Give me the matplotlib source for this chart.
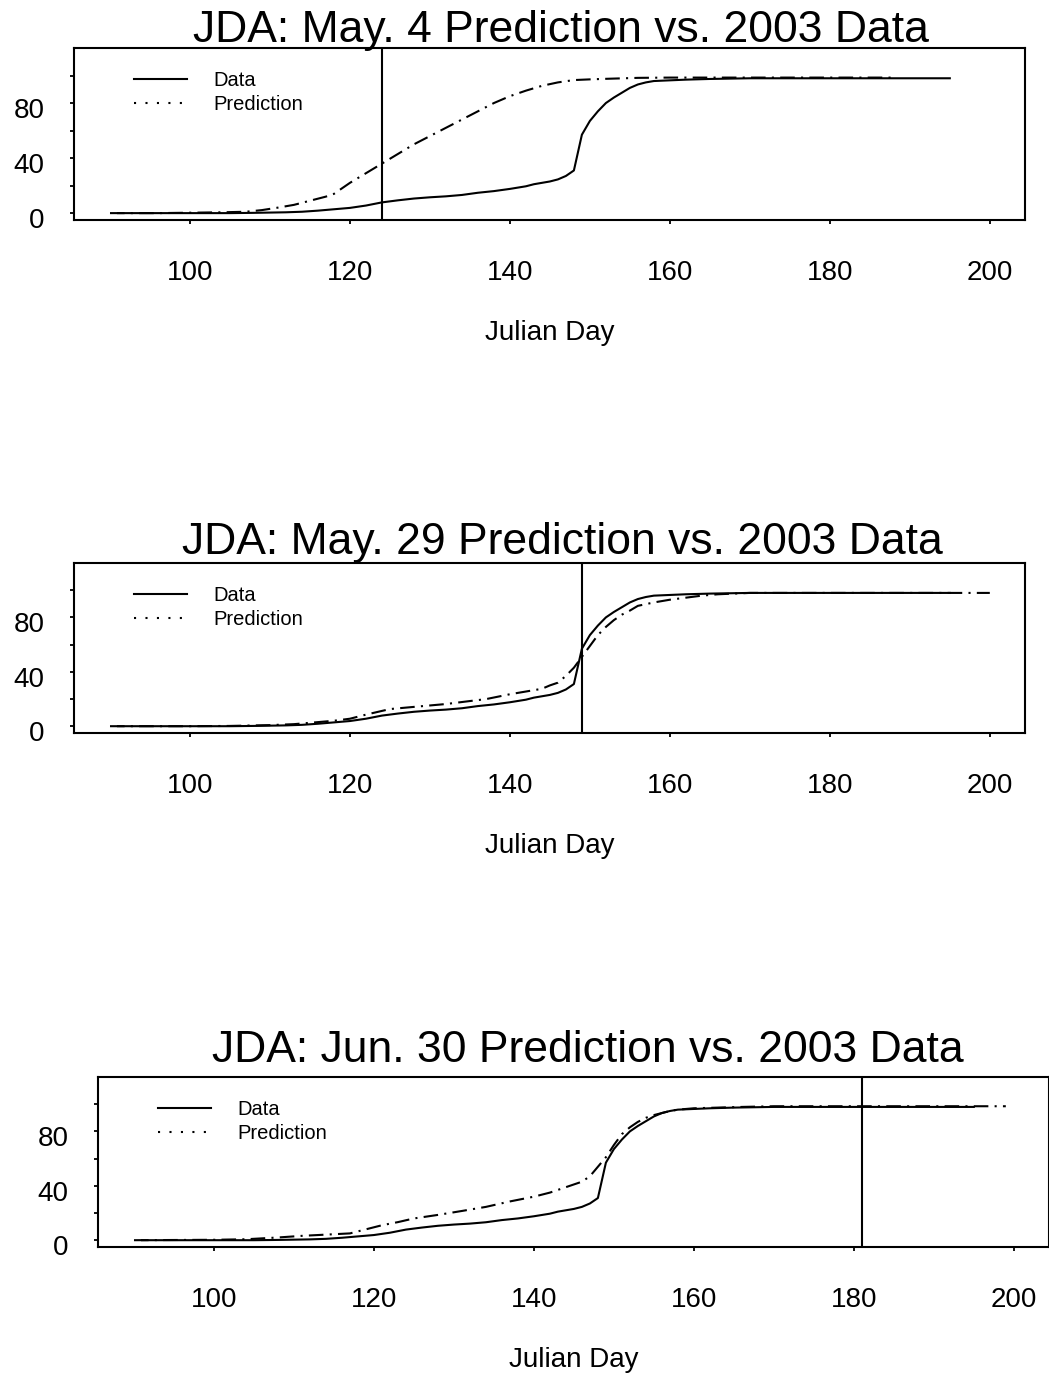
import matplotlib
matplotlib.use('Agg')
import matplotlib.pyplot as plt
import matplotlib.transforms as mtransforms
from matplotlib.lines import Line2D

plt.rcParams['font.family'] = ['Liberation Sans', 'DejaVu Sans']

# observed 2003 passage (same in all three panels)
data_days = [91, 95, 100, 105, 108, 110, 112, 114, 116, 118, 120, 122, 124, 126, 128,
             130, 132, 134, 136, 138, 140, 142, 143, 144, 145, 146, 147, 148, 149, 150,
             151, 152, 153, 154, 155, 156, 157, 158, 160, 162, 165, 170, 175, 180, 185,
             190, 195]
data_vals = [0, 0, 0, 0, 0.2, 0.4, 0.6, 1, 1.8, 2.8, 3.8, 5.5, 7.8, 9.3, 10.6,
             11.5, 12.2, 13.2, 14.8, 16, 17.6, 19.5, 21, 22, 23, 24.5, 27, 31, 57, 67,
             74, 80, 84, 87.5, 91, 93.5, 95, 96, 96.5, 97, 97.5, 98, 98, 98, 98,
             98, 98]

# May 4 prediction
pred1_days = [90, 96, 100, 104, 107, 109, 111, 113, 115, 117, 118, 119, 120, 122, 124,
              126, 128, 130, 132, 134, 136, 138, 140, 142, 144, 146, 148, 150, 152, 156,
              160, 170, 180, 188]
pred1_vals = [0, 0, 0.3, 0.6, 1, 2.2, 4, 6, 9, 12, 14, 18, 22, 29, 36,
              43, 50, 56, 62, 68, 74, 80, 85, 89, 92.5, 95, 96.7, 97.2, 97.6, 98.3,
              98.5, 98.5, 98.5, 98.5]

# May 29 prediction
pred2_days = [90, 100, 105, 110, 113, 116, 118, 120, 122, 125, 128, 132, 135, 137, 140,
              142, 144, 145, 146, 147, 148, 149, 150, 151, 152, 153, 154, 155, 156, 158,
              160, 162, 164, 166, 170, 180, 190, 200]
pred2_vals = [0, 0, 0.2, 0.8, 1.5, 3, 4, 5.5, 8.5, 12.6, 14.2, 16.3, 18.5, 19.9, 23.5,
              25.5, 27.5, 30, 32, 37, 43, 51, 59, 67, 73, 78, 82, 85, 88.5, 91,
              93, 94.5, 96, 97, 98, 98, 98, 98]

# Jun 30 prediction
pred3_days = [90, 100, 104, 108, 111, 113, 117, 119, 121, 123, 125, 128, 131, 134, 137,
              140, 142, 144, 146, 147, 148, 149, 150, 151, 152, 153, 154, 155, 156, 157,
              158, 160, 163, 166, 170, 180, 190, 199]
pred3_vals = [0, 0.3, 0.7, 2, 3.2, 3.8, 5, 8, 11, 13.3, 16, 18.6, 21.5, 24.5, 28.5,
              32, 35, 39, 43, 47, 54, 61, 70, 78, 83, 87, 90, 92, 93.5, 95,
              96, 97, 97.5, 98, 98.5, 98.5, 98.5, 98.5]

cutoff_days = [124, 149, 181]
titles = ['JDA: May. 4 Prediction vs. 2003 Data',
          'JDA: May. 29 Prediction vs. 2003 Data',
          'JDA: Jun. 30 Prediction vs. 2003 Data']
pred_days = [pred1_days, pred2_days, pred3_days]
pred_vals = [pred1_vals, pred2_vals, pred3_vals]

W, H = 1049, 1375
fig = plt.figure(figsize=(W / 100, H / 100), dpi=100)


def rect(left, top, right, bottom):
    return [left / W, 1 - bottom / H, (right - left) / W, (bottom - top) / H]


boxes = [(74, 48, 1025, 220), (74, 563, 1025, 733), (98, 1077, 1049, 1247)]
title_pos = [(561, 42), (562, 554.5), (588, 1061.7)]

handles = [Line2D([], [], color='black', lw=1.5),
           Line2D([], [], color='black', lw=1.5, ls=(0, (1, 4.5)))]

# y labels sit a little below their ticks in the original
ylab_shift = mtransforms.ScaledTranslation(0, -5 / 100, fig.dpi_scale_trans)

for i in range(3):
    ax = fig.add_axes(rect(*boxes[i]))
    ax.plot(data_days, data_vals, color='black', lw=1.5)
    ax.plot(pred_days[i], pred_vals[i], color='black', lw=1.5, ls=(0, (7, 3, 1, 3)))
    ax.axvline(cutoff_days[i], color='black', lw=1.5)

    ax.set_xlim(85.5, 204.4)
    ax.set_ylim(-5, 120)
    ax.set_xticks(range(100, 201, 20))
    ax.set_yticks([0, 40, 80])
    ax.set_yticks([20, 60, 100], minor=True)
    ax.tick_params(axis='x', which='both', direction='out', length=3, width=1.3,
                   labelsize=20, pad=26)
    ax.tick_params(axis='y', which='both', direction='out', length=3, width=1.3,
                   labelsize=20, pad=18)
    for lab in ax.get_yticklabels():
        lab.set_transform(lab.get_transform() + ylab_shift)
    for s in ax.spines.values():
        s.set_linewidth(1.5)
    ax.set_xlabel('Julian Day', fontsize=20, labelpad=24)

    ax.legend(handles, ['Data', 'Prediction'], loc='upper left',
              bbox_to_anchor=(60 / 951, 1 - 23 / 172), frameon=False,
              fontsize=14.5, handlelength=2.65, handletextpad=1.3,
              labelspacing=0.25, borderpad=0, borderaxespad=0)

    tx, ty = title_pos[i]
    fig.text(tx / W, 1 - ty / H, titles[i], fontsize=32, ha='center', va='baseline')

fig.savefig('out.png', dpi=100)
